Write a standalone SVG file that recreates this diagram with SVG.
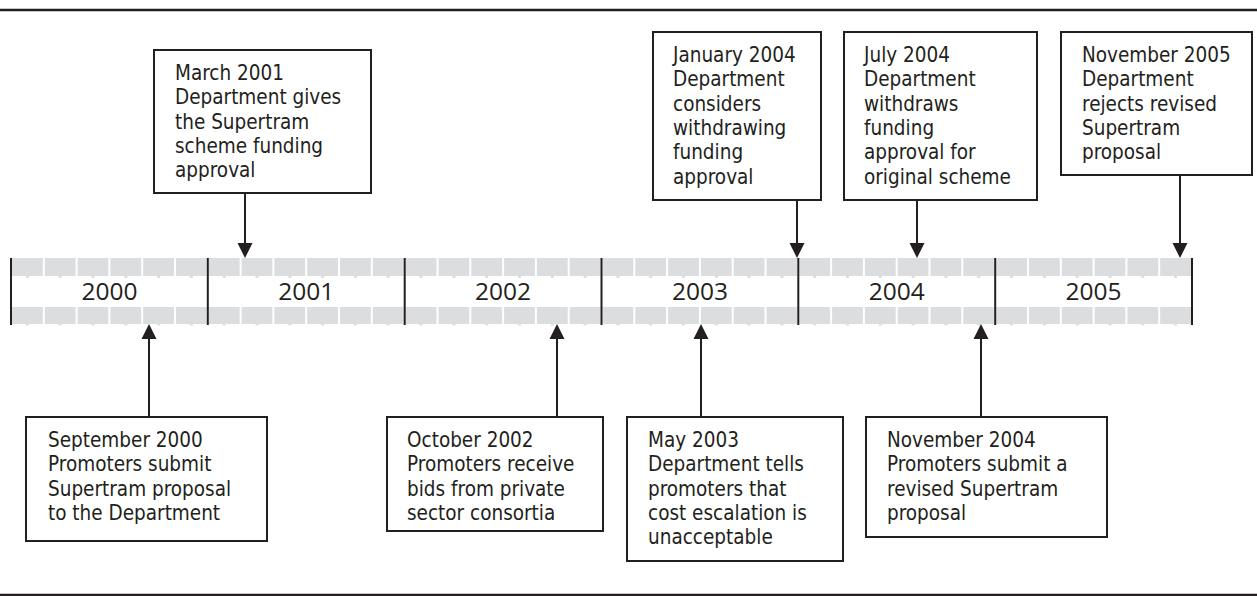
<svg xmlns="http://www.w3.org/2000/svg" width="1257" height="596" viewBox="0 0 1257 596">
<style>
.box{fill:#fff;stroke:#231f20;stroke-width:2}
.t{font-family:'DejaVu Sans Condensed','DejaVu Sans',sans-serif;font-stretch:condensed;font-size:20.5px;fill:#231f20}
.yr{font-family:'Open Sans','Noto Sans',sans-serif;font-size:24.5px;fill:#231f20;text-anchor:middle}
.cell{fill:#dcdddf}
.div{stroke:#231f20;stroke-width:2}
.rule{stroke:#231f20;stroke-width:2.5}
.con{stroke:#231f20;stroke-width:2;fill:none}
</style>
<defs>
<marker id="ah" markerWidth="16" markerHeight="16" refX="12" refY="8" orient="auto" markerUnits="userSpaceOnUse">
<path d="M0,0.5 L15,8 L0,15.5 z" fill="#231f20"/>
</marker>
<g id="yearcells">
<rect class="cell" x="1" y="0" width="30.8" height="18"/>
<rect class="cell" x="33.8" y="0" width="30.8" height="18"/>
<rect class="cell" x="66.6" y="0" width="30.8" height="18"/>
<rect class="cell" x="99.4" y="0" width="30.8" height="18"/>
<rect class="cell" x="132.2" y="0" width="30.8" height="18"/>
<rect class="cell" x="165" y="0" width="30.8" height="18"/>
<rect class="cell" x="14.9" y="18" width="3" height="2"/>
<rect class="cell" x="47.7" y="18" width="3" height="2"/>
<rect class="cell" x="80.5" y="18" width="3" height="2"/>
<rect class="cell" x="113.3" y="18" width="3" height="2"/>
<rect class="cell" x="146.1" y="18" width="3" height="2"/>
<rect class="cell" x="178.9" y="18" width="3" height="2"/>
<rect class="cell" x="1" y="49" width="30.8" height="17"/>
<rect class="cell" x="33.8" y="49" width="30.8" height="17"/>
<rect class="cell" x="66.6" y="49" width="30.8" height="17"/>
<rect class="cell" x="99.4" y="49" width="30.8" height="17"/>
<rect class="cell" x="132.2" y="49" width="30.8" height="17"/>
<rect class="cell" x="165" y="49" width="30.8" height="17"/>
<rect class="cell" x="14.9" y="66" width="3" height="1.5"/>
<rect class="cell" x="47.7" y="66" width="3" height="1.5"/>
<rect class="cell" x="80.5" y="66" width="3" height="1.5"/>
<rect class="cell" x="113.3" y="66" width="3" height="1.5"/>
<rect class="cell" x="146.1" y="66" width="3" height="1.5"/>
<rect class="cell" x="178.9" y="66" width="3" height="1.5"/>
</g>
</defs>

<g id="rules">
<line class="rule" x1="0" y1="10" x2="1257" y2="10"/>
<line class="rule" x1="0" y1="595" x2="1257" y2="595"/>
</g>

<g id="timeline">
<use href="#yearcells" x="11" y="258"/>
<use href="#yearcells" x="207.8" y="258"/>
<use href="#yearcells" x="404.7" y="258"/>
<use href="#yearcells" x="601.5" y="258"/>
<use href="#yearcells" x="798.3" y="258"/>
<use href="#yearcells" x="995.2" y="258"/>
<line class="div" x1="11" y1="258" x2="11" y2="325"/>
<line class="div" x1="207.8" y1="258" x2="207.8" y2="325"/>
<line class="div" x1="404.7" y1="258" x2="404.7" y2="325"/>
<line class="div" x1="601.5" y1="258" x2="601.5" y2="325"/>
<line class="div" x1="798.3" y1="258" x2="798.3" y2="325"/>
<line class="div" x1="995.2" y1="258" x2="995.2" y2="325"/>
<line class="div" x1="1192" y1="258" x2="1192" y2="325"/>
<text class="yr" x="109.4" y="300">2000</text>
<text class="yr" x="306.2" y="300">2001</text>
<text class="yr" x="503.1" y="300">2002</text>
<text class="yr" x="699.9" y="300">2003</text>
<text class="yr" x="896.7" y="300">2004</text>
<text class="yr" x="1093.6" y="300">2005</text>
</g>

<g id="connectors">
<line class="con" x1="245" y1="193" x2="245" y2="255" marker-end="url(#ah)"/>
<line class="con" x1="797" y1="200" x2="797" y2="255" marker-end="url(#ah)"/>
<line class="con" x1="917" y1="200" x2="917" y2="255" marker-end="url(#ah)"/>
<line class="con" x1="1180" y1="175" x2="1180" y2="255" marker-end="url(#ah)"/>
<line class="con" x1="149" y1="417" x2="149" y2="327" marker-end="url(#ah)"/>
<line class="con" x1="557" y1="417" x2="557" y2="327" marker-end="url(#ah)"/>
<line class="con" x1="701" y1="417" x2="701" y2="327" marker-end="url(#ah)"/>
<line class="con" x1="981" y1="417" x2="981" y2="327" marker-end="url(#ah)"/>
</g>

<g id="n_mar2001">
<rect class="box" x="154" y="50" width="217" height="143"/>
<text class="t" x="175" y="80"><tspan x="175">March 2001</tspan><tspan x="175" dy="24.3">Department gives</tspan><tspan x="175" dy="24.3">the Supertram</tspan><tspan x="175" dy="24.3">scheme funding</tspan><tspan x="175" dy="24.3">approval</tspan></text>
</g>

<g id="n_jan2004">
<rect class="box" x="653" y="32" width="168" height="168"/>
<text class="t" x="673" y="62"><tspan x="673">January 2004</tspan><tspan x="673" dy="24.3">Department</tspan><tspan x="673" dy="24.3">considers</tspan><tspan x="673" dy="24.3">withdrawing</tspan><tspan x="673" dy="24.3">funding</tspan><tspan x="673" dy="24.3">approval</tspan></text>
</g>

<g id="n_jul2004">
<rect class="box" x="844" y="32" width="193" height="168"/>
<text class="t" x="864" y="62"><tspan x="864">July 2004</tspan><tspan x="864" dy="24.3">Department</tspan><tspan x="864" dy="24.3">withdraws</tspan><tspan x="864" dy="24.3">funding</tspan><tspan x="864" dy="24.3">approval for</tspan><tspan x="864" dy="24.3">original scheme</tspan></text>
</g>

<g id="n_nov2005">
<rect class="box" x="1061" y="32" width="191" height="143"/>
<text class="t" x="1082" y="62"><tspan x="1082">November 2005</tspan><tspan x="1082" dy="24.3">Department</tspan><tspan x="1082" dy="24.3">rejects revised</tspan><tspan x="1082" dy="24.3">Supertram</tspan><tspan x="1082" dy="24.3">proposal</tspan></text>
</g>

<g id="n_sep2000">
<rect class="box" x="26" y="417" width="241" height="124"/>
<text class="t" x="48" y="447"><tspan x="48">September 2000</tspan><tspan x="48" dy="24.3">Promoters submit</tspan><tspan x="48" dy="24.3">Supertram proposal</tspan><tspan x="48" dy="24.3">to the Department</tspan></text>
</g>

<g id="n_oct2002">
<rect class="box" x="387" y="417" width="216" height="114"/>
<text class="t" x="407" y="447"><tspan x="407">October 2002</tspan><tspan x="407" dy="24.3">Promoters receive</tspan><tspan x="407" dy="24.3">bids from private</tspan><tspan x="407" dy="24.3">sector consortia</tspan></text>
</g>

<g id="n_may2003">
<rect class="box" x="627" y="417" width="216" height="144"/>
<text class="t" x="648" y="447"><tspan x="648">May 2003</tspan><tspan x="648" dy="24.3">Department tells</tspan><tspan x="648" dy="24.3">promoters that</tspan><tspan x="648" dy="24.3">cost escalation is</tspan><tspan x="648" dy="24.3">unacceptable</tspan></text>
</g>

<g id="n_nov2004">
<rect class="box" x="866" y="417" width="241" height="120"/>
<text class="t" x="887" y="447"><tspan x="887">November 2004</tspan><tspan x="887" dy="24.3">Promoters submit a</tspan><tspan x="887" dy="24.3">revised Supertram</tspan><tspan x="887" dy="24.3">proposal</tspan></text>
</g>
</svg>
